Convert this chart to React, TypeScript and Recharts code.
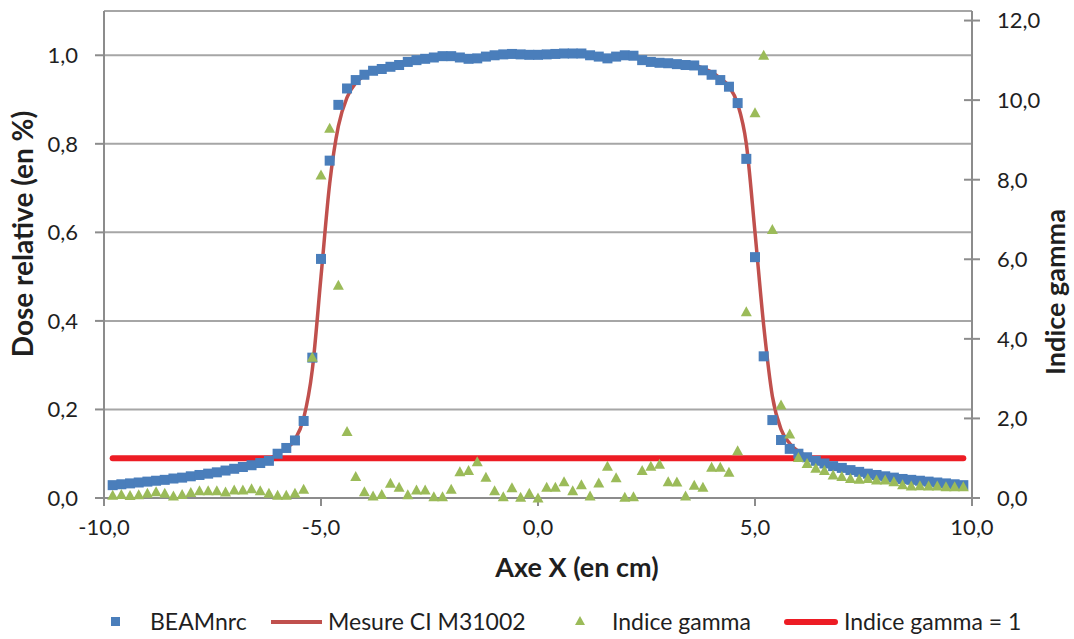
import React from 'react';
import { ComposedChart, Line, Scatter, XAxis, YAxis, CartesianGrid, Label } from 'recharts';

// position along X (cm)
const positions = [
    -9.8, -9.6, -9.4, -9.2, -9.0, -8.8, -8.6, -8.4, -8.2, -8.0,
    -7.8, -7.6, -7.4, -7.2, -7.0, -6.8, -6.6, -6.4, -6.2, -6.0,
    -5.8, -5.6, -5.4, -5.2, -5.0, -4.8, -4.6, -4.4, -4.2, -4.0,
    -3.8, -3.6, -3.4, -3.2, -3.0, -2.8, -2.6, -2.4, -2.2, -2.0,
    -1.8, -1.6, -1.4, -1.2, -1.0, -0.8, -0.6, -0.4, -0.2, 0.0,
    0.2, 0.4, 0.6, 0.8, 1.0, 1.2, 1.4, 1.6, 1.8, 2.0,
    2.2, 2.4, 2.6, 2.8, 3.0, 3.2, 3.4, 3.6, 3.8, 4.0,
    4.2, 4.4, 4.6, 4.8, 5.0, 5.2, 5.4, 5.6, 5.8, 6.0,
    6.2, 6.4, 6.6, 6.8, 7.0, 7.2, 7.4, 7.6, 7.8, 8.0,
    8.2, 8.4, 8.6, 8.8, 9.0, 9.2, 9.4, 9.6, 9.8,
];

const beamnrc = [
    0.029, 0.031, 0.033, 0.035, 0.037, 0.039, 0.041, 0.044, 0.046, 0.049,
    0.052, 0.055, 0.058, 0.062, 0.066, 0.070, 0.074, 0.079, 0.084, 0.100,
    0.113, 0.130, 0.174, 0.317, 0.540, 0.762, 0.888, 0.925, 0.944, 0.956,
    0.965, 0.969, 0.974, 0.978, 0.985, 0.989, 0.992, 0.995, 0.998, 0.998,
    0.995, 0.992, 0.993, 0.997, 1.000, 1.002, 1.003, 1.002, 1.001, 1.001,
    1.002, 1.003, 1.004, 1.004, 1.004, 1.000, 0.997, 0.993, 0.997, 1.000,
    0.999, 0.989, 0.985, 0.983, 0.982, 0.980, 0.978, 0.977, 0.966, 0.956,
    0.944, 0.929, 0.892, 0.766, 0.544, 0.320, 0.176, 0.131, 0.111, 0.100,
    0.092, 0.084, 0.078, 0.072, 0.068, 0.063, 0.059, 0.055, 0.052, 0.049,
    0.046, 0.043, 0.041, 0.039, 0.037, 0.035, 0.033, 0.031, 0.029,
];

const mesureCI = [
    0.029, 0.031, 0.033, 0.035, 0.037, 0.039, 0.041, 0.044, 0.046, 0.049,
    0.052, 0.055, 0.058, 0.062, 0.066, 0.070, 0.075, 0.080, 0.088, 0.099,
    0.112, 0.132, 0.180, 0.290, 0.500, 0.710, 0.840, 0.905, 0.937, 0.954,
    0.964, 0.970, 0.975, 0.980, 0.985, 0.989, 0.992, 0.995, 0.997, 0.997,
    0.996, 0.995, 0.996, 0.998, 1.000, 1.001, 1.002, 1.002, 1.001, 1.001,
    1.002, 1.003, 1.003, 1.003, 1.003, 1.001, 0.999, 0.998, 0.998, 0.999,
    0.998, 0.993, 0.990, 0.987, 0.985, 0.983, 0.981, 0.978, 0.971, 0.962,
    0.948, 0.930, 0.890, 0.800, 0.600, 0.390, 0.230, 0.155, 0.123, 0.105,
    0.094, 0.086, 0.079, 0.073, 0.068, 0.063, 0.059, 0.055, 0.052, 0.049,
    0.046, 0.043, 0.041, 0.039, 0.037, 0.035, 0.033, 0.031, 0.029,
];

const gammaIndex = [
    0.07, 0.09, 0.06, 0.08, 0.12, 0.16, 0.12, 0.05, 0.09, 0.14,
    0.18, 0.18, 0.18, 0.15, 0.20, 0.20, 0.23, 0.18, 0.12, 0.07,
    0.07, 0.12, 0.22, 3.54, 8.12, 9.29, 5.35, 1.67, 0.54, 0.16,
    0.05, 0.09, 0.37, 0.27, 0.08, 0.20, 0.20, 0.03, 0.03, 0.22,
    0.66, 0.69, 0.91, 0.52, 0.18, 0.03, 0.26, 0.02, 0.12, 0.00,
    0.27, 0.27, 0.41, 0.18, 0.33, 0.05, 0.38, 0.80, 0.51, 0.02,
    0.03, 0.69, 0.80, 0.85, 0.41, 0.40, 0.05, 0.32, 0.27, 0.77,
    0.77, 0.65, 1.19, 4.68, 9.68, 11.13, 6.75, 2.34, 1.61, 1.02,
    0.87, 0.75, 0.69, 0.58, 0.54, 0.49, 0.47, 0.49, 0.45, 0.45,
    0.41, 0.33, 0.30, 0.31, 0.30, 0.30, 0.28, 0.28, 0.28,
];

const gammaLimit = 1;

const xTicks = [-10, -5, 0, 5, 10];
const doseTicks = [0, 0.2, 0.4, 0.6, 0.8, 1.0];
const gammaTicks = [0, 2, 4, 6, 8, 10, 12];

const data = positions.map((x, i) => ({
    x,
    beam: beamnrc[i],
    mesure: mesureCI[i],
    gamma: gammaIndex[i],
    limit: gammaLimit,
}));

const BLUE = '#4A7EBB';
const DARK_RED = '#C0504D';
const GREEN = '#9BBB59';
const RED = '#ED1C24';
const AXIS = '#8C8C8C';
const TEXT = '#1F1F1F';

const fmt = (v: number) => v.toFixed(1).replace('.', ',');

const SquareDot = (props: any) => {
    const { cx, cy } = props;
    if (cx == null || cy == null) return null;
    return <rect x={cx - 5} y={cy - 5} width={10} height={10} fill={BLUE} />;
};

const TriangleDot = (props: any) => {
    const { cx, cy } = props;
    if (cx == null || cy == null) return null;
    return <path d={`M${cx},${cy - 5.5} L${cx + 5.5},${cy + 4.5} L${cx - 5.5},${cy + 4.5} Z`} fill={GREEN} />;
};

// right axis ticks cross the axis line
const GammaTick = (props: any) => {
    const { x, y, payload } = props;
    const axisX = x - 25;
    return (
        <g>
            <line x1={axisX - 8} x2={axisX + 8} y1={y} y2={y} stroke={AXIS} strokeWidth={2} />
            <text x={x} y={y} dy="0.355em" textAnchor="start" fill={TEXT} fontSize={22}>
                {fmt(payload.value)}
            </text>
        </g>
    );
};

const legendText: React.CSSProperties = { position: 'absolute', top: 607, fontSize: 23, color: TEXT, whiteSpace: 'nowrap' };

const App: React.FC = () => {
    return (
        <div style={{ position: 'absolute', left: 0, top: 0, width: 1074, height: 639, background: '#fff', fontFamily: 'Lato, sans-serif' }}>
            <ComposedChart width={1074} height={639} data={data} margin={{ top: 11, right: 0, bottom: 81, left: 0 }}>
                <CartesianGrid yAxisId="left" vertical={false} stroke="#A6A6A6" strokeWidth={2} />
                <XAxis
                    dataKey="x"
                    type="number"
                    domain={[-10, 10]}
                    ticks={xTicks}
                    tickFormatter={fmt}
                    height={60}
                    stroke={AXIS}
                    strokeWidth={2}
                    tickSize={8}
                    tickMargin={13}
                    tick={{ fill: TEXT, fontSize: 22 }}
                >
                    <Label
                        content={() => (
                            <text x={577} y={566} textAnchor="middle" dominantBaseline="central" fontWeight={700} fontSize={27} fill={TEXT}>
                                Axe X (en cm)
                            </text>
                        )}
                    />
                </XAxis>
                <YAxis
                    yAxisId="left"
                    width={104}
                    domain={[0, 1.1]}
                    ticks={doseTicks}
                    tickFormatter={fmt}
                    stroke={AXIS}
                    strokeWidth={2}
                    tickSize={9}
                    tickMargin={17}
                    tick={{ fill: TEXT, fontSize: 22 }}
                >
                    <Label
                        content={() => (
                            <text x={22} y={234} transform="rotate(-90 22 234)" textAnchor="middle" dominantBaseline="central" fontWeight={700} fontSize={28} fill={TEXT}>
                                Dose relative (en %)
                            </text>
                        )}
                    />
                </YAxis>
                <YAxis
                    yAxisId="right"
                    orientation="right"
                    width={102}
                    domain={[0, 12.24]}
                    ticks={gammaTicks}
                    stroke={AXIS}
                    strokeWidth={2}
                    tickLine={false}
                    tickSize={8}
                    tickMargin={17}
                    tick={<GammaTick />}
                >
                    <Label
                        content={() => (
                            <text x={1054} y={292} transform="rotate(-90 1054 292)" textAnchor="middle" dominantBaseline="central" fontWeight={700} fontSize={27} fill={TEXT}>
                                Indice gamma
                            </text>
                        )}
                    />
                </YAxis>

                <Line yAxisId="left" type="monotone" dataKey="mesure" stroke={DARK_RED} strokeWidth={3.5} dot={false} isAnimationActive={false} />
                <Scatter yAxisId="left" dataKey="beam" shape={<SquareDot />} isAnimationActive={false} />
                <Line yAxisId="right" type="linear" dataKey="limit" stroke={RED} strokeWidth={6} strokeLinecap="round" dot={false} isAnimationActive={false} />
                <Scatter yAxisId="right" dataKey="gamma" shape={<TriangleDot />} isAnimationActive={false} />
            </ComposedChart>

            {/* legend */}
            <div style={{ position: 'absolute', left: 111, top: 617, width: 9, height: 9, background: BLUE }} />
            <div style={{ ...legendText, left: 150 }}>BEAMnrc</div>
            <div style={{ position: 'absolute', left: 271, top: 620, width: 51, height: 4, background: DARK_RED }} />
            <div style={{ ...legendText, left: 328 }}>Mesure CI M31002</div>
            <svg style={{ position: 'absolute', left: 575, top: 616 }} width={10} height={10}>
                <path d="M5,0 L10,9 L0,9 Z" fill={GREEN} />
            </svg>
            <div style={{ ...legendText, left: 612 }}>Indice gamma</div>
            <div style={{ position: 'absolute', left: 784, top: 619, width: 54, height: 6, borderRadius: 3, background: RED }} />
            <div style={{ ...legendText, left: 844 }}>Indice gamma = 1</div>
        </div>
    );
};

export default App;
